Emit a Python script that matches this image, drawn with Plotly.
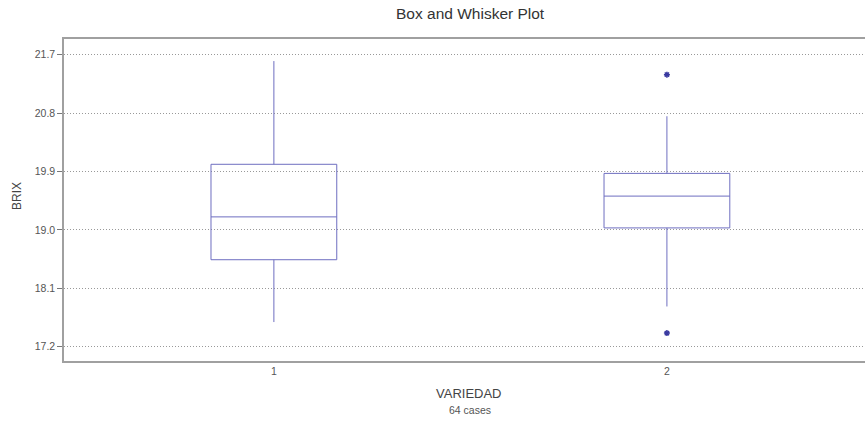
import plotly.graph_objects as go

# Data
categories = [1, 2]
q1_vals = [18.54, 19.03]
median_vals = [19.20, 19.52]
q3_vals = [20.01, 19.87]
lower_fence = [17.58, 17.82]
upper_fence = [21.60, 20.75]
outlier_x = [2, 2]
outlier_y = [21.39, 17.41]
y_ticks = [17.2, 18.1, 19.0, 19.9, 20.8, 21.7]
y_tick_labels = ["17.2", "18.1", "19.0", "19.9", "20.8", "21.7"]
x_tick_labels = ["1", "2"]

box_color = "#6e6ec0"
font_family = "Liberation Sans, Arial, sans-serif"

W, H = 865, 444
L, T, B, R = 64, 39, 83, 0
plot_w = W - L - R
plot_h = H - T - B


def px_x(px):
    return (px - L) / plot_w


def px_y(py):
    return (H - B - py) / plot_h


fig = go.Figure()
fig.add_trace(go.Box(
    x=categories,
    q1=q1_vals,
    median=median_vals,
    q3=q3_vals,
    lowerfence=lower_fence,
    upperfence=upper_fence,
    width=0.32,
    whiskerwidth=0,
    line=dict(color=box_color, width=1),
    fillcolor="rgba(255,255,255,0)",
    boxpoints=False,
    showlegend=False,
))
fig.add_trace(go.Scatter(
    x=outlier_x,
    y=outlier_y,
    mode="markers",
    marker=dict(symbol="asterisk", size=5, color="#3a3aa0",
                line=dict(color="#3a3aa0", width=1.5)),
    showlegend=False,
))

fig.update_layout(
    width=W, height=H,
    margin=dict(l=L, r=R, t=T, b=B, autoexpand=False),
    paper_bgcolor="white",
    plot_bgcolor="white",
    font=dict(family=font_family, color="#555555"),
    xaxis=dict(
        range=[0.466, 2.504],
        tickvals=categories,
        ticktext=x_tick_labels,
        showgrid=False,
        zeroline=False,
        showline=True,
        mirror="allticks",
        linecolor="#a0a0a0",
        linewidth=1.5,
        ticks="",
        automargin=False,
        tickfont=dict(size=10.5, color="#555555"),
    ),
    yaxis=dict(
        range=[16.98, 21.94],
        tickvals=y_ticks,
        ticktext=y_tick_labels,
        showgrid=True,
        gridcolor="#999999",
        griddash="1px,2px",
        gridwidth=1,
        zeroline=False,
        showline=True,
        mirror=False,
        linecolor="#a0a0a0",
        linewidth=1.5,
        ticks="outside",
        ticklen=5,
        tickcolor="#777777",
        automargin=False,
        tickfont=dict(size=10.5, color="#555555"),
    ),
    annotations=[
        dict(text="Box and Whisker Plot", x=px_x(470), y=px_y(14),
             xref="paper", yref="paper", showarrow=False,
             xanchor="center", yanchor="middle",
             font=dict(size=15.5, color="#333333")),
        dict(text="BRIX", x=px_x(17), y=px_y(196), textangle=-90,
             xref="paper", yref="paper", showarrow=False,
             xanchor="center", yanchor="middle",
             font=dict(size=12, color="#444444")),
        dict(text="VARIEDAD", x=px_x(469), y=px_y(393),
             xref="paper", yref="paper", showarrow=False,
             xanchor="center", yanchor="middle",
             font=dict(size=13, color="#444444")),
        dict(text="64 cases", x=px_x(470), y=px_y(410),
             xref="paper", yref="paper", showarrow=False,
             xanchor="center", yanchor="middle",
             font=dict(size=10.5, color="#555555")),
    ],
)

fig.write_html(
    "out.html",
    config={"displayModeBar": False},
    post_script="document.body.style.margin='0';document.body.style.overflow='hidden';",
)
